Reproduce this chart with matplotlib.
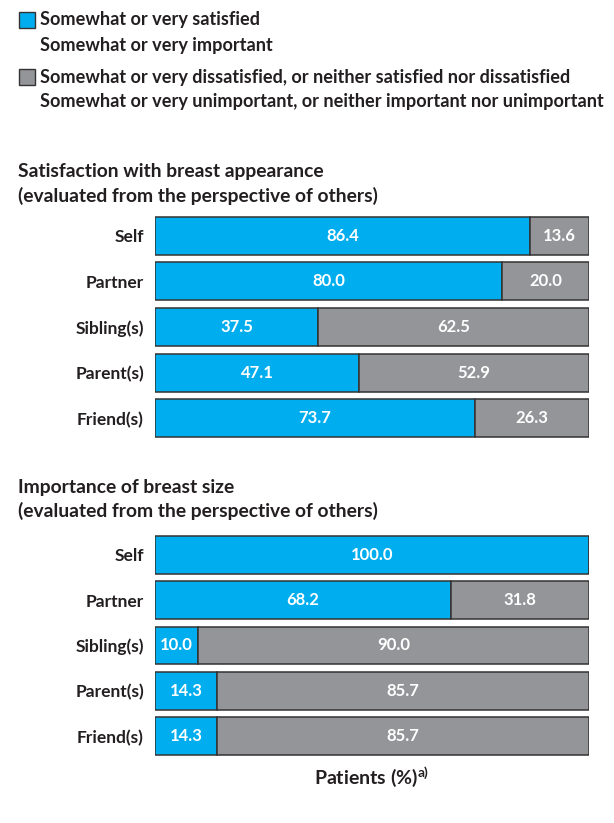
import numpy as np
import matplotlib
matplotlib.use("Agg")
import matplotlib.pyplot as plt
from matplotlib.patches import Rectangle

plt.rcParams['font.family'] = ['Lato', 'DejaVu Sans']

# Survey groups and percentages
groups = ["Self", "Partner", "Sibling(s)", "Parent(s)", "Friend(s)"]
satisfied = [86.4, 80.0, 37.5, 47.1, 73.7]
not_satisfied = [13.6, 20.0, 62.5, 52.9, 26.3]
important = [100.0, 68.2, 10.0, 14.3, 14.3]
not_important = [0.0, 31.8, 90.0, 85.7, 85.7]

blue = "#00aeef"
grey = "#939598"
edge = "#333333"
txt = "#231f20"
wt = "bold"

W, H = 614, 823
fig = plt.figure(figsize=(W / 100, H / 100), dpi=100)


def px_axes(left, top, right, bottom):
    return fig.add_axes([left / W, 1 - bottom / H, (right - left) / W, (bottom - top) / H])


def draw_panel(ax, first, second):
    y = np.arange(len(groups))
    ax.barh(y, first, height=0.83, color=blue, edgecolor=edge, linewidth=1.1)
    ax.barh(y, second, left=first, height=0.83, color=grey, edgecolor=edge, linewidth=1.1)
    for i in range(len(groups)):
        if first[i] > 0:
            ax.text(first[i] / 2, i, f"{first[i]:.1f}", ha="center", va="center",
                    color="white", fontsize=12, fontweight=wt)
        if second[i] > 0:
            ax.text(first[i] + second[i] / 2, i, f"{second[i]:.1f}", ha="center", va="center",
                    color="white", fontsize=12, fontweight=wt)
    ax.set_xlim(0, 100)
    ax.set_ylim(len(groups) - 0.5, -0.5)
    ax.set_yticks(y)
    ax.set_yticklabels(groups, fontsize=12.5, fontweight=wt, color=txt)
    ax.tick_params(axis="y", length=0, pad=8)
    ax.set_xticks([])
    for s in ax.spines.values():
        s.set_visible(False)


ax1 = px_axes(155, 213, 589, 441)
draw_panel(ax1, satisfied, not_satisfied)
ax2 = px_axes(155, 532, 589, 759)
draw_panel(ax2, important, not_important)

# panel titles
title_rows = [
    (172, "Satisfaction with breast appearance"),
    (196, "(evaluated from the perspective of others)"),
    (487, "Importance of breast size"),
    (511, "(evaluated from the perspective of others)"),
]
for yy, s in title_rows:
    fig.text(18 / W, 1 - yy / H, s, fontsize=13.9, fontweight=wt, color=txt, va="center")

# legend
fig.patches.append(Rectangle((19 / W, 1 - 28 / H), 16 / W, 16 / H, transform=fig.transFigure,
                             facecolor=blue, edgecolor=edge, linewidth=1))
fig.patches.append(Rectangle((19 / W, 1 - 85 / H), 16 / W, 16 / H, transform=fig.transFigure,
                             facecolor=grey, edgecolor=edge, linewidth=1))
legend_lines = [
    (20, "Somewhat or very satisfied"),
    (45, "Somewhat or very important"),
    (77, "Somewhat or very dissatisfied, or neither satisfied nor dissatisfied"),
    (101, "Somewhat or very unimportant, or neither important nor unimportant"),
]
for yy, s in legend_lines:
    fig.text(40 / W, 1 - yy / H, s, fontsize=13.1, fontweight=wt, color=txt, va="center")

fig.text(372 / W, 1 - 777 / H, r"Patients (%)$^{\mathregular{a)}}$", fontsize=14,
         fontweight=wt, color=txt, ha="center", va="center")

fig.savefig("out.png", dpi=100)
